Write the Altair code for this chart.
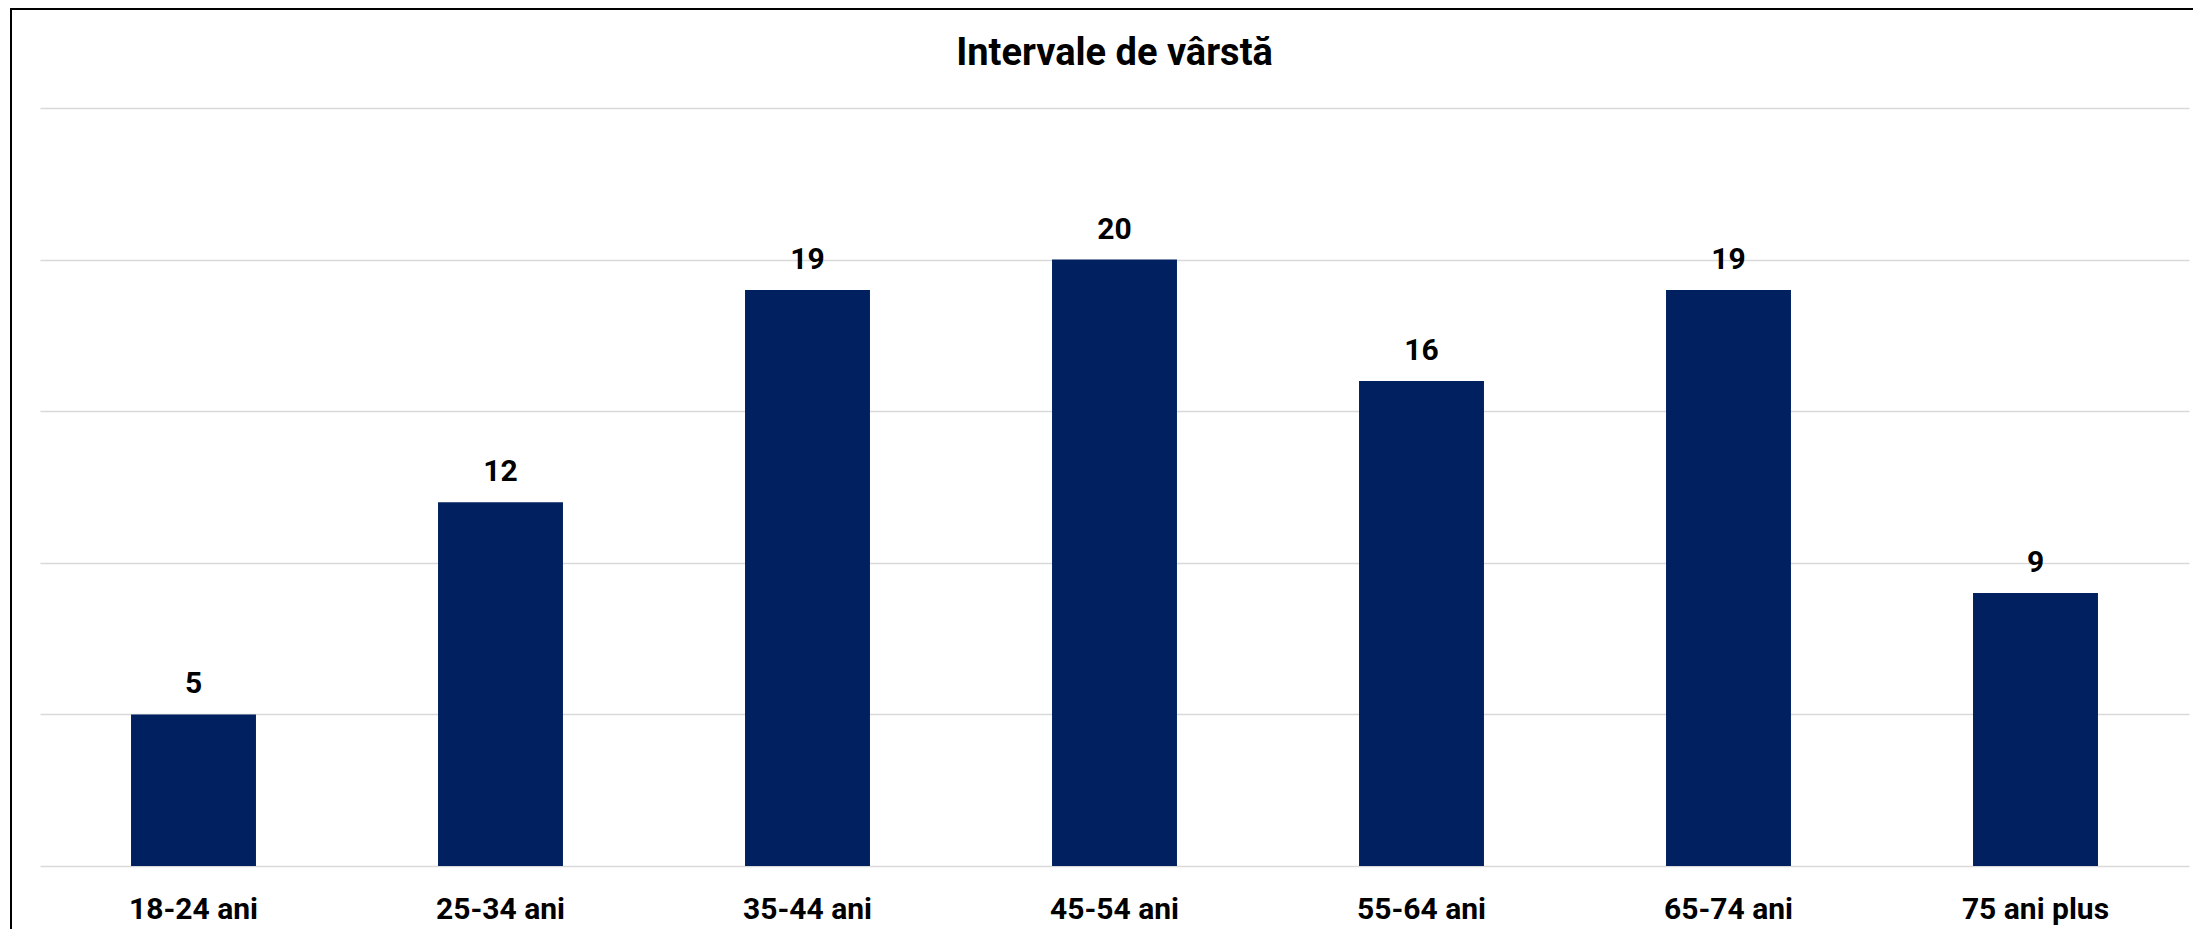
import altair as alt
import pandas as pd

categories = ["18-24 ani", "25-34 ani", "35-44 ani", "45-54 ani", "55-64 ani", "65-74 ani", "75 ani plus"]
values = [5, 12, 19, 20, 16, 19, 9]
y_ticks = [0, 5, 10, 15, 20, 25]
title_text = "Intervale de vârstă"

df = pd.DataFrame({"cat": categories, "val": values})
title_df = pd.DataFrame({"t": [title_text]})

FONT = "Roboto"
PI = 0.593
W, H = 2149, 758

x_enc = alt.X("cat:N", sort=categories, title=None,
              scale=alt.Scale(paddingInner=PI, paddingOuter=PI / 2),
              axis=alt.Axis(labelAngle=0, labelFont=FONT, labelFontSize=30, labelFontWeight="bold",
                            labelColor="#000000", ticks=False, domain=False, labelPadding=28,
                            grid=False))
y_enc = alt.Y("val:Q", title=None,
              scale=alt.Scale(domain=[0, 25], nice=False),
              axis=alt.Axis(values=y_ticks, labels=False, ticks=False, domain=False, grid=True,
                            gridColor="#d9d9d9", gridWidth=1.6))

bars = alt.Chart(df).mark_bar(color="#002060").encode(x=x_enc, y=y_enc)

text = alt.Chart(df).mark_text(font=FONT, fontSize=30, fontWeight="bold", color="#000000",
                               baseline="alphabetic", dy=-21).encode(
    x=alt.X("cat:N", sort=categories),
    y=alt.Y("val:Q"),
    text=alt.Text("val:Q"))

title_mark = alt.Chart(title_df).mark_text(font=FONT, fontSize=38, fontWeight="bold", color="#000000",
                                           baseline="alphabetic", align="center").encode(
    x=alt.value(W / 2), y=alt.value(-43), text="t:N")

border_left = alt.Chart(df).mark_rule(color="#000000", strokeWidth=2).encode(
    x=alt.value(-29), y=alt.value(-100), y2=alt.value(900))
border_top = alt.Chart(df).mark_rule(color="#000000", strokeWidth=2).encode(
    x=alt.value(-30), x2=alt.value(2200), y=alt.value(-99))

chart = alt.layer(bars, text, title_mark, border_left, border_top).properties(
    width=W, height=H,
    autosize=alt.AutoSizeParams(type="none"),
    padding={"left": 32, "top": 100, "right": 4, "bottom": 63},
).configure(background="#ffffff").configure_view(stroke="transparent", strokeWidth=0)

chart.save("out.html", embed_options={"renderer": "svg", "actions": False})
